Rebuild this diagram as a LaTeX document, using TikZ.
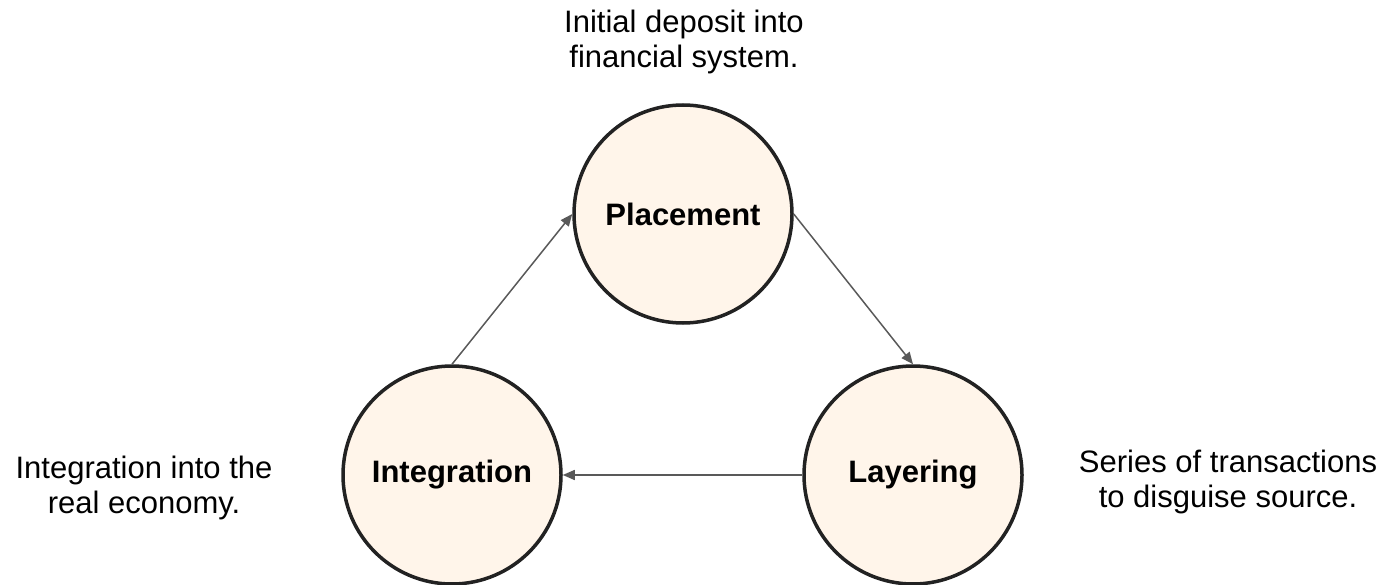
\documentclass[tikz,border=0pt]{standalone}
\usepackage{fontspec}
\setmainfont{Liberation Sans}
\usetikzlibrary{arrows.meta}
\definecolor{circfill}{HTML}{FFF5EA}
\definecolor{circdraw}{HTML}{222222}
\definecolor{arrowgray}{HTML}{595959}
\begin{document}
\begin{tikzpicture}[x=1pt,y=-1pt,
  stage/.style={circle, draw=circdraw, fill=circfill, line width=3.5pt,
    minimum size=218pt, inner sep=0pt, font=\fontsize{31}{35}\selectfont\bfseries},
  desc/.style={align=center, inner sep=0pt, font=\fontsize{31}{35}\selectfont, anchor=north},
  flow/.style={draw=arrowgray, line width=1.5pt, -{Triangle[length=12pt,width=10pt]}}]
\useasboundingbox (0,0) rectangle (1389,585);
\node[stage] (plac) at (683,214) {Placement};
\node[stage] (integ) at (452,475) {Integration};
\node[stage] (layer) at (913,475) {Layering};
\node[desc] (dplac) at (684,10) {Initial deposit into\\financial system.};
\node[desc] (dinteg) at (144,456) {Integration into the\\real economy.};
\node[desc] (dlayer) at (1228,450) {Series of transactions\\to disguise source.};
\draw[flow] (integ.north) -- (plac.west);
\draw[flow] (plac.east) -- (layer.north);
\draw[flow] (layer.west) -- (integ.east);
\end{tikzpicture}
\end{document}
